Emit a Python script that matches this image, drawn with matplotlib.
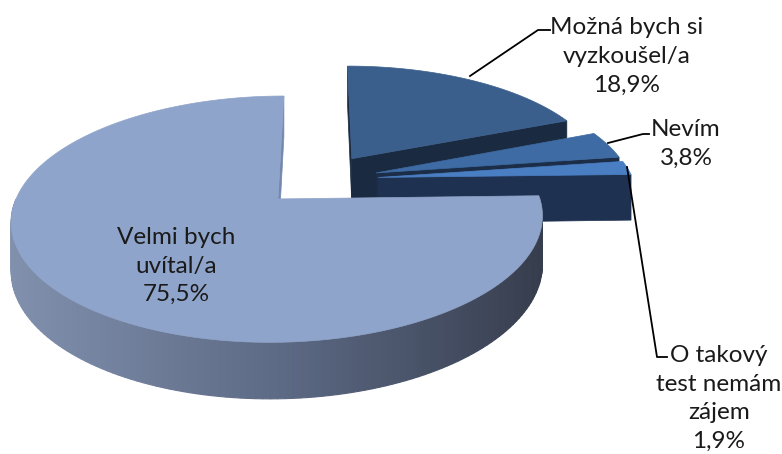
import matplotlib.pyplot as plt
from matplotlib.patches import Polygon
import numpy as np

labels = ['Možná bych si\nvyzkoušel/a', 'Nevím', 'O takový\ntest nemám\nzájem', 'Velmi bych\nuvítal/a']
values = [18.9, 3.8, 1.9, 75.5]
pct_text = ['18,9%', '3,8%', '1,9%', '75,5%']

top_colors = ['#3B5F8C', '#3E6BA3', '#4A7EC3', '#8FA4CA']
face_colors = ['#1A2A40', '#1C2D47', '#1F3150', '#7488AE']
wall_stops = ['#8090AD', '#5D6A85', '#363D4D']

# projection of the tilted disk (pixel space)
cx, cy = 320, 179.7
A, B, k, H = 255, 113.6, 0.16, 46
explode = 0.23


def proj(u, v, z=0.0):
    s = 1.0 / (1.0 + k * v)
    return cx + A * u * s, cy - B * v * s + H * z * s


def lerp_color(c1, c2, t):
    a = np.array(plt.matplotlib.colors.to_rgb(c1))
    b = np.array(plt.matplotlib.colors.to_rgb(c2))
    return tuple(a + (b - a) * t)


def wall_color(t):
    if t < 0.5:
        return lerp_color(wall_stops[0], wall_stops[1], t * 2)
    return lerp_color(wall_stops[1], wall_stops[2], (t - 0.5) * 2)


fig = plt.figure(figsize=(7.82, 4.54), dpi=100)
ax = fig.add_axes([0, 0, 1, 1])
ax.set_xlim(0, 782)
ax.set_ylim(454, 0)
ax.axis('off')

total = sum(values)
slices = []
start = 90.0
for i, v in enumerate(values):
    sweep = 360.0 * v / total
    t_hi = start
    t_lo = start - sweep
    mid = np.radians((t_hi + t_lo) / 2)
    ou, ov = explode * np.cos(mid), explode * np.sin(mid)
    slices.append((i, t_lo, t_hi, ou, ov))
    start = t_lo

# back to front
slices.sort(key=lambda s: -s[4])

for i, t_lo, t_hi, ou, ov in slices:
    ts = np.radians(np.linspace(t_lo, t_hi, 200))

    # radial faces
    for t, sign in ((t_hi, 1), (t_lo, -1)):
        n = np.radians(t + 90 * sign)
        if np.sin(n) <= 0.01:
            tr = np.radians(t)
            pts = [proj(ou, ov, 0), proj(ou + np.cos(tr), ov + np.sin(tr), 0),
                   proj(ou + np.cos(tr), ov + np.sin(tr), 1), proj(ou, ov, 1)]
            ax.add_patch(Polygon(pts, closed=True, fc=face_colors[i],
                                 ec=face_colors[i], lw=0.5))

    # outer curved wall (front part only)
    xs_all = [proj(ou + np.cos(t), ov + np.sin(t))[0] for t in ts]
    xmin, xmax = min(xs_all), max(xs_all)
    for a0, a1 in zip(ts[:-1], ts[1:]):
        if np.sin((a0 + a1) / 2) < 0:
            p = [proj(ou + np.cos(a0), ov + np.sin(a0), 0),
                 proj(ou + np.cos(a1), ov + np.sin(a1), 0),
                 proj(ou + np.cos(a1), ov + np.sin(a1), 1),
                 proj(ou + np.cos(a0), ov + np.sin(a0), 1)]
            frac = (p[0][0] - xmin) / max(xmax - xmin, 1)
            c = wall_color(frac) if i == 3 else face_colors[i]
            ax.add_patch(Polygon(p, closed=True, fc=c, ec=c, lw=0.8))

    # top face
    top = [proj(ou, ov)] + [proj(ou + np.cos(t), ov + np.sin(t)) for t in ts]
    ax.add_patch(Polygon(top, closed=True, fc=top_colors[i], ec=top_colors[i], lw=0.5))

# labels
label_pos = [(627, 56.5), (686, 144), (719, 398.5), (176, 266)]
for lab, pc, (x, y) in zip(labels, pct_text, label_pos):
    ax.text(x, y, lab + '\n' + pc, ha='center', va='center', fontsize=17.5,
            family='Lato', color='#1a1a1a', linespacing=1.45)

# leader lines
ax.plot([470, 538, 550], [76, 30, 30], color='black', lw=1.3)
ax.plot([608, 643, 649], [143, 134, 134], color='black', lw=1.3)
ax.plot([627, 657, 667], [167, 357, 357], color='black', lw=1.3)

plt.savefig('out.png', dpi=100)
